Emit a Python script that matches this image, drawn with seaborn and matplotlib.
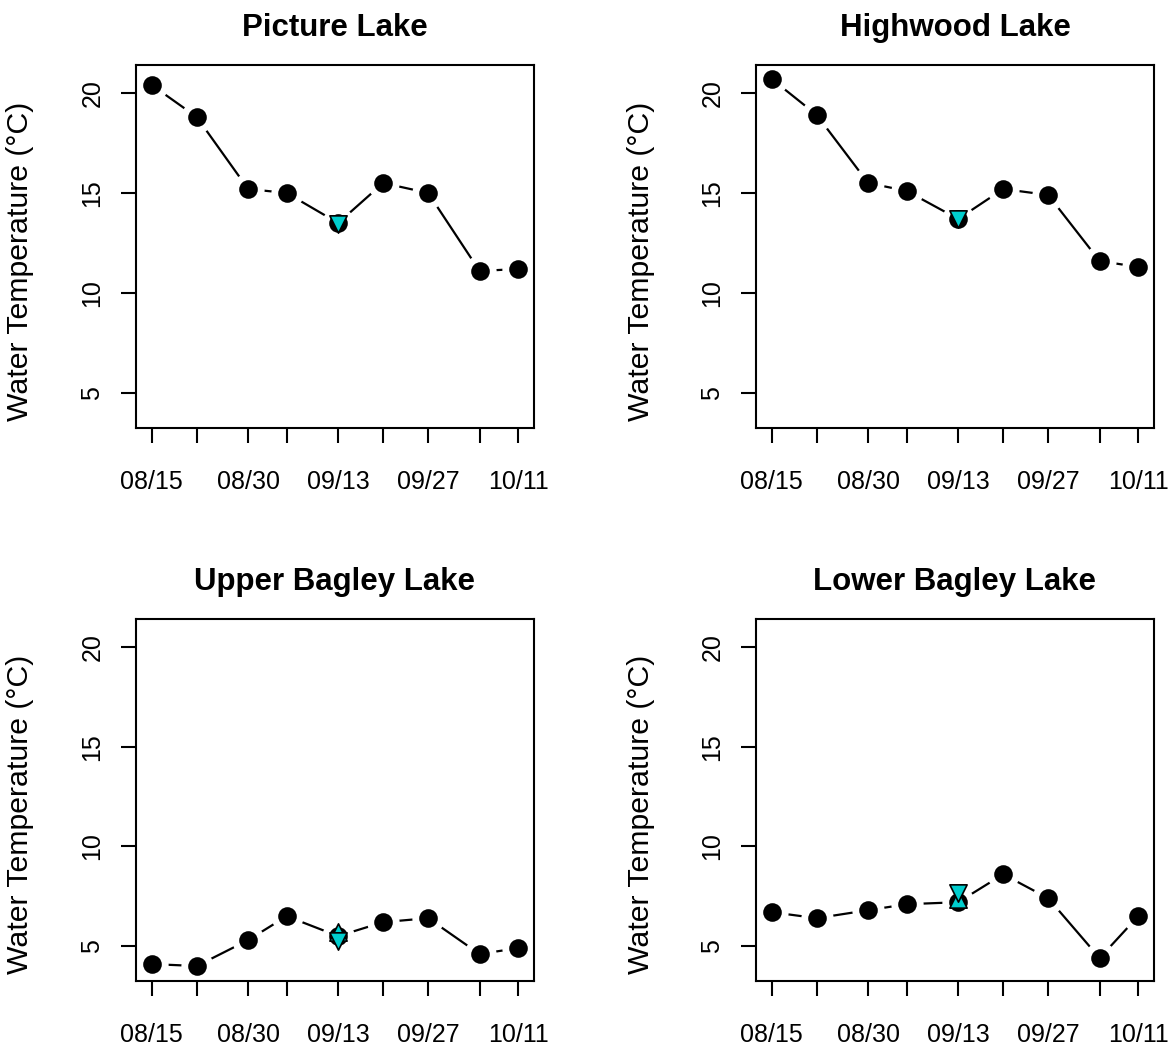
import numpy as np
import pandas as pd
import matplotlib
matplotlib.use("Agg")
import matplotlib.pyplot as plt
import seaborn as sns

# sampling dates and labels (only every other date is labelled)
dates = pd.to_datetime(['2019-08-15', '2019-08-22', '2019-08-30', '2019-09-05', '2019-09-13',
                        '2019-09-20', '2019-09-27', '2019-10-05', '2019-10-11'])
date_labels = ['08/15', '', '08/30', '', '09/13', '', '09/27', '', '10/11']

lakes = ['Picture Lake', 'Highwood Lake', 'Upper Bagley Lake', 'Lower Bagley Lake']
picture = [20.4, 18.8, 15.2, 15.0, 13.5, 15.5, 15.0, 11.1, 11.2]
highwood = [20.7, 18.9, 15.5, 15.1, 13.7, 15.2, 14.9, 11.6, 11.3]
upper_bagley = [4.1, 4.0, 5.3, 6.5, 5.5, 6.2, 6.4, 4.6, 4.9]
lower_bagley = [6.7, 6.4, 6.8, 7.1, 7.2, 8.6, 7.4, 4.4, 6.5]

# extra measurements on 09/13 (cyan triangles)
tri_date = pd.Timestamp('2019-09-13')
down_tri = [13.45, 13.7, 5.25, 7.65]
up_tri = [np.nan, np.nan, 5.7, 7.35]

yticks = [5, 10, 15, 20]

sns.set_theme(style="white")
plt.rcParams['font.family'] = ['Liberation Sans', 'DejaVu Sans']

fig = plt.figure(figsize=(11.75, 10.57), dpi=100)
positions = [
    [0.1157, 0.5951, 0.3387, 0.3434],
    [0.6434, 0.5951, 0.3387, 0.3434],
    [0.1157, 0.0719, 0.3387, 0.3425],
    [0.6434, 0.0719, 0.3387, 0.3425],
]
series = [picture, highwood, upper_bagley, lower_bagley]
cyan = '#00CDCD'

for i, (name, vals) in enumerate(zip(lakes, series)):
    ax = fig.add_axes(positions[i])
    df = pd.DataFrame({'date': dates, 'temp': vals})
    sns.lineplot(data=df, x='date', y='temp', color='black', lw=1.6, ax=ax, zorder=1)
    # white halo gives the R type="b" gaps around points
    sns.scatterplot(data=df, x='date', y='temp', color='white', s=540, linewidth=0, ax=ax, zorder=2)
    sns.scatterplot(data=df, x='date', y='temp', color='black', s=180, linewidth=0, ax=ax, zorder=3)
    if not np.isnan(up_tri[i]):
        sns.scatterplot(x=[tri_date], y=[up_tri[i]], marker='^', color=cyan, edgecolor='black',
                        linewidth=1.2, s=155, ax=ax, zorder=4)
    sns.scatterplot(x=[tri_date], y=[down_tri[i]], marker='v', color=cyan, edgecolor='black',
                    linewidth=1.2, s=155, ax=ax, zorder=5)

    ax.set_xlim(dates[0] - pd.Timedelta(days=2.45), dates[-1] + pd.Timedelta(days=2.45))
    ax.set_ylim(3.25, 21.4)
    ax.set_xticks(dates)
    ax.set_xticklabels(date_labels)
    ax.set_yticks(yticks)
    ax.set_yticklabels([str(t) for t in yticks])
    ax.tick_params(axis='both', direction='out', length=10.8, width=1.5, color='black',
                   labelsize=18, labelcolor='black', bottom=True, left=True)
    ax.tick_params(axis='x', pad=19.5)
    ax.tick_params(axis='y', pad=12, labelrotation=90)
    for lab in ax.get_yticklabels():
        lab.set_va('center')
    for sp in ax.spines.values():
        sp.set_visible(True)
        sp.set_color('black')
        sp.set_linewidth(1.5)
        sp.set_zorder(6)
    ax.set_xlabel('')
    ax.set_ylabel('Water Temperature (°C)', fontsize=21.8, color='black')
    ax.yaxis.set_label_coords(-0.255, 0.46)
    ax.set_title(name, fontsize=22.5, fontweight='bold', pad=21, color='black')

fig.savefig('out.png', dpi=100, facecolor='white')
